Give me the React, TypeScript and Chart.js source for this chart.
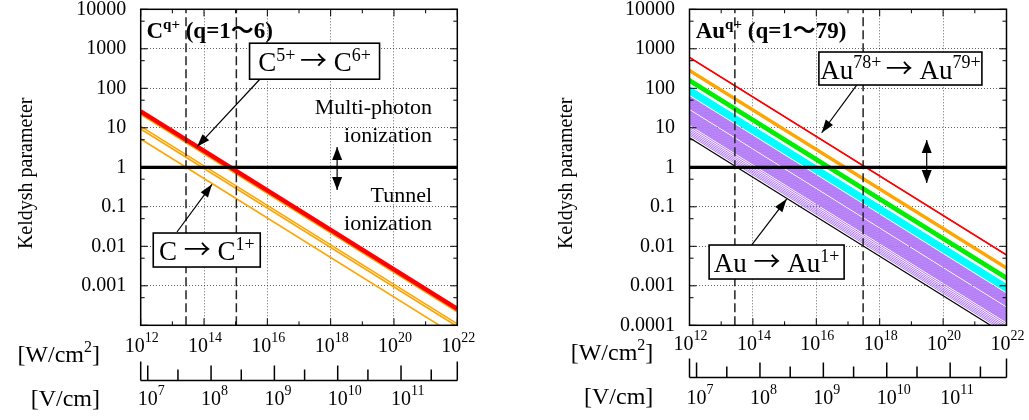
import React, { useEffect, useRef } from 'react';
import { Chart, registerables } from 'chart.js';

Chart.register(...registerables);

const SERIF = "'Liberation Serif', 'Times New Roman', 'Noto Sans CJK JP', serif";
const SYMBOL = "'Noto Sans CJK JP', 'Liberation Serif', serif";

// ---- axes ----
const intensityMin = 1e12;
const intensityMax = 1e22;
const gammaMin = 1e-4;
const gammaMax = 1e4;
const yTickValues = [1e4, 1e3, 1e2, 1e1, 1, 1e-1, 1e-2, 1e-3, 1e-4];
const yTickLabels = ['10000', '1000', '100', '10', '1', '0.1', '0.01', '0.001', '0.0001'];
const yMinorTickValues = [5e-4, 5e-3, 5e-2, 0.5, 5, 50, 500, 5000];
const xTickValues = [1e12, 1e14, 1e16, 1e18, 1e20, 1e22];
const xTickExponents = ['12', '14', '16', '18', '20', '22'];
const xGridValues = [1e14, 1e16, 1e18, 1e20];
const xMinorTickValues = [1e13, 1e15, 1e17, 1e19, 1e21];
const fieldMin = 7.74e6;
const fieldMax = 7.74e11;
const fieldTickValues = [1e7, 1e8, 1e9, 1e10, 1e11];
const fieldTickExponents = ['7', '8', '9', '10', '11'];
const fieldMinorTickValues = [3e7, 3e8, 3e9, 3e10, 3e11];
const referenceGamma = 1;

// ---- carbon (C q+ , q = 1..6): Keldysh parameter at 1e12 and 1e22 W/cm2 ----
const carbonRedStart = [26];
const carbonRedEnd = [2.6e-4];
const carbonOrangeStart = [22.5, 10.9, 9.3, 5.2];
const carbonOrangeEnd = [2.25e-4, 1.09e-4, 9.3e-5, 5.2e-5];
const carbonDashedIntensity = [2.7e13, 1.05e15];

// ---- gold (Au q+ , q = 1..79) ----
const auRedStart = [612, 598];
const auRedEnd = [6.12e-3, 5.98e-3];
const auOrangeStart = [303, 294.6, 286.5, 278.6, 270.9, 263.4];
const auOrangeEnd = [3.03e-3, 2.946e-3, 2.865e-3, 2.786e-3, 2.709e-3, 2.634e-3];
const auGreenStart = [175, 169.8, 164.8, 160, 155.3, 150.7, 146.2, 142];
const auGreenEnd = [1.75e-3, 1.698e-3, 1.648e-3, 1.6e-3, 1.553e-3, 1.507e-3, 1.462e-3, 1.42e-3];
const auCyanStart = [107.9, 104.6, 101.3, 98.2, 95.1, 92.2, 89.3, 86.5, 83.9, 81.3, 78.7, 76.3, 73.9, 71.6];
const auCyanEnd = [1.079e-3, 1.046e-3, 1.013e-3, 9.82e-4, 9.51e-4, 9.22e-4, 8.93e-4, 8.65e-4, 8.39e-4, 8.13e-4, 7.87e-4, 7.63e-4, 7.39e-4, 7.16e-4];
const auPurpleStart = [
  62.0, 59.9, 57.8, 55.8, 53.9, 52.0, 50.2, 48.5, 46.8, 45.2, 43.7, 42.2, 40.7, 39.3, 37.9, 36.6, 35.4, 34.2, 33.0, 31.8, 30.7,
  27.4, 26.3, 25.3, 24.3, 23.3, 22.4, 21.5, 20.6, 19.8, 19.0, 18.2, 17.5, 16.8, 16.1, 15.5, 14.9, 14.3, 13.7, 13.2, 12.6, 12.1,
  10.8, 9.6, 8.64, 7.83, 7.13, 6.5,
];
const auPurpleEnd = [
  6.2e-4, 5.99e-4, 5.78e-4, 5.58e-4, 5.39e-4, 5.2e-4, 5.02e-4, 4.85e-4, 4.68e-4, 4.52e-4, 4.37e-4, 4.22e-4, 4.07e-4, 3.93e-4, 3.79e-4, 3.66e-4, 3.54e-4, 3.42e-4, 3.3e-4, 3.18e-4, 3.07e-4,
  2.74e-4, 2.63e-4, 2.53e-4, 2.43e-4, 2.33e-4, 2.24e-4, 2.15e-4, 2.06e-4, 1.98e-4, 1.9e-4, 1.82e-4, 1.75e-4, 1.68e-4, 1.61e-4, 1.55e-4, 1.49e-4, 1.43e-4, 1.37e-4, 1.32e-4, 1.26e-4, 1.21e-4,
  1.08e-4, 9.6e-5, 8.64e-5, 7.83e-5, 7.13e-5, 6.5e-5,
];
const auBlackStart = [5.6];
const auBlackEnd = [5.6e-5];
const auDashedIntensity = [2.7e13, 3.0e17];

// ---- types ----
type XY = [number, number];
interface Seg { text: string; sup?: boolean; sym?: boolean }
interface Box { center: XY; w: number; h: number; segs: Seg[]; from: XY; to: XY }
interface Note { at: XY; text: string }
interface Panel {
  key: string;
  width: number;
  yAxisWidth: number;
  padRight: number;
  datasets: any[];
  title: { at: XY; segs: Seg[] };
  boxes: Box[];
  notes: Note[];
  doubleArrow: { x: number; y1: number; y2: number };
  hideLowestYLabel: boolean;
  yTitleX: number;
  unitRightX: number;
  xLabelBaseline: number;
  wUnitBaseline: number;
  vUnitBaseline: number;
  fieldAxisY: number;
  fieldLabelBaseline: number;
}

const isDecade = (v: number, list: number[]) =>
  list.some((t) => Math.abs(Math.log10(v) - Math.log10(t)) < 1e-6);

function lineSet(starts: number[], ends: number[], color: string, width: number, order: number) {
  return starts.map((s, i) => ({
    data: [
      { x: intensityMin, y: s },
      { x: intensityMax, y: ends[i] },
    ],
    borderColor: color,
    borderWidth: width,
    pointRadius: 0,
    fill: false,
    tension: 0,
    order,
    clip: 0,
  }));
}

function referenceSets(dashed: number[]) {
  const sets: any[] = [
    {
      data: [
        { x: intensityMin, y: referenceGamma },
        { x: intensityMax, y: referenceGamma },
      ],
      borderColor: '#000',
      borderWidth: 3.2,
      pointRadius: 0,
      order: 0,
      clip: 0,
    },
  ];
  dashed.forEach((v) =>
    sets.push({
      data: [
        { x: v, y: gammaMin },
        { x: v, y: gammaMax },
      ],
      borderColor: '#222',
      borderWidth: 1.5,
      borderDash: [9, 4],
      pointRadius: 0,
      order: 0,
      clip: 0,
    })
  );
  return sets;
}

function drawRich(
  ctx: CanvasRenderingContext2D,
  segs: Seg[],
  x: number,
  y: number,
  o: { size: number; supSize: number; raise: number; bold?: boolean; align: 'left' | 'center' | 'right' | 'base' }
) {
  const fontOf = (s: Seg) =>
    `${o.bold ? 'bold ' : ''}${s.sup ? o.supSize : o.size}px ${s.sym ? SYMBOL : SERIF}`;
  let total = 0;
  const widths = segs.map((s) => {
    ctx.font = fontOf(s);
    const w = ctx.measureText(s.text).width;
    total += w;
    return w;
  });
  let cx = x;
  if (o.align === 'center') cx = x - total / 2;
  else if (o.align === 'right') cx = x - total;
  else if (o.align === 'base') cx = x - widths[0] / 2;
  ctx.textAlign = 'left';
  ctx.textBaseline = 'alphabetic';
  segs.forEach((s, i) => {
    ctx.font = fontOf(s);
    ctx.fillText(s.text, cx, s.sup ? y - o.raise : s.sym ? y - 1 : y);
    cx += widths[i];
  });
}

function line(ctx: CanvasRenderingContext2D, x1: number, y1: number, x2: number, y2: number) {
  ctx.beginPath();
  ctx.moveTo(x1, y1);
  ctx.lineTo(x2, y2);
  ctx.stroke();
}

function head(ctx: CanvasRenderingContext2D, x1: number, y1: number, x2: number, y2: number, len = 12, half = 4.5) {
  const ang = Math.atan2(y2 - y1, x2 - x1);
  ctx.beginPath();
  ctx.moveTo(x2, y2);
  ctx.lineTo(x2 - len * Math.cos(ang) + half * Math.sin(ang), y2 - len * Math.sin(ang) - half * Math.cos(ang));
  ctx.lineTo(x2 - len * Math.cos(ang) - half * Math.sin(ang), y2 - len * Math.sin(ang) + half * Math.cos(ang));
  ctx.closePath();
  ctx.fill();
}

function makeOverlay(p: Panel) {
  return {
    id: 'overlay_' + p.key,
    afterDatasetsDraw(chart: any) {
      const ctx = chart.ctx as CanvasRenderingContext2D;
      const xs = chart.scales.x;
      const ys = chart.scales.y;
      const es = chart.scales.e;
      const a = chart.chartArea;
      const px = (v: number) => xs.getPixelForValue(v);
      const py = (v: number) => ys.getPixelForValue(v);
      ctx.save();
      ctx.fillStyle = '#000';
      ctx.strokeStyle = '#000';

      // inward ticks (mirrored)
      ctx.lineWidth = 1;
      const hTick = (v: number, len: number) => {
        const y = py(v);
        line(ctx, a.left, y, a.left + len, y);
        line(ctx, a.right - len, y, a.right, y);
      };
      const vTick = (v: number, len: number) => {
        const x = px(v);
        line(ctx, x, a.bottom, x, a.bottom - len);
        line(ctx, x, a.top, x, a.top + len);
      };
      yTickValues.forEach((v) => hTick(v, 7));
      yMinorTickValues.forEach((v) => hTick(v, 4));
      xTickValues.forEach((v) => vTick(v, 7));
      xMinorTickValues.forEach((v) => vTick(v, 4));

      // frame
      ctx.lineWidth = 1.5;
      ctx.strokeRect(a.left, a.top, a.right - a.left, a.bottom - a.top);

      // intensity tick labels
      xTickValues.forEach((v, i) =>
        drawRich(ctx, [{ text: '10' }, { text: xTickExponents[i], sup: true }], px(v) + 1, p.xLabelBaseline, {
          size: 20,
          supSize: 14,
          raise: 10,
          align: 'center',
        })
      );

      // unit labels
      drawRich(ctx, [{ text: '[W/cm' }, { text: '2', sup: true }, { text: ']' }], p.unitRightX, p.wUnitBaseline, {
        size: 24,
        supSize: 16,
        raise: 10,
        align: 'right',
      });
      drawRich(ctx, [{ text: '[V/cm]' }], p.unitRightX, p.vUnitBaseline, {
        size: 24,
        supSize: 16,
        raise: 10,
        align: 'right',
      });

      // field axis
      const ey = p.fieldAxisY;
      const eL = es.getPixelForValue(fieldMin);
      const eR = es.getPixelForValue(fieldMax);
      ctx.lineWidth = 1.5;
      line(ctx, eL, ey, eR, ey);
      line(ctx, eL, ey, eL, ey - 19);
      line(ctx, eR, ey, eR, ey - 19);
      fieldTickValues.forEach((v) => {
        const x = es.getPixelForValue(v);
        line(ctx, x, ey, x, ey - 15);
      });
      fieldMinorTickValues.forEach((v) => {
        const x = es.getPixelForValue(v);
        line(ctx, x, ey, x, ey - 11);
      });
      fieldTickValues.forEach((v, i) =>
        drawRich(ctx, [{ text: '10' }, { text: fieldTickExponents[i], sup: true }], es.getPixelForValue(v), p.fieldLabelBaseline, {
          size: 20,
          supSize: 14,
          raise: 10,
          align: 'base',
        })
      );

      // y title
      ctx.save();
      ctx.translate(p.yTitleX, (a.top + a.bottom) / 2 + 6);
      ctx.rotate(-Math.PI / 2);
      ctx.font = `20px ${SERIF}`;
      ctx.textAlign = 'center';
      ctx.textBaseline = 'alphabetic';
      ctx.fillText('Keldysh parameter', 0, 0);
      ctx.restore();

      // panel title
      drawRich(ctx, p.title.segs, px(p.title.at[0]), py(p.title.at[1]), {
        size: 23,
        supSize: 15,
        raise: 9,
        bold: true,
        align: 'left',
      });

      // annotation boxes with arrows
      p.boxes.forEach((b) => {
        const fx = px(b.from[0]);
        const fy = py(b.from[1]);
        const tx = px(b.to[0]);
        const ty = py(b.to[1]);
        ctx.lineWidth = 1.2;
        line(ctx, fx, fy, tx, ty);
        head(ctx, fx, fy, tx, ty, 13, 4.5);
        const cx = px(b.center[0]);
        const cy = py(b.center[1]);
        ctx.fillStyle = '#fff';
        ctx.fillRect(cx - b.w / 2, cy - b.h / 2, b.w, b.h);
        ctx.fillStyle = '#000';
        ctx.lineWidth = 1.6;
        ctx.strokeRect(cx - b.w / 2, cy - b.h / 2, b.w, b.h);
        drawRich(ctx, b.segs, cx, cy + 10, { size: 27, supSize: 18, raise: 10.5, align: 'center' });
      });

      // notes
      p.notes.forEach((n) => {
        ctx.font = `22px ${SERIF}`;
        ctx.textAlign = 'right';
        ctx.textBaseline = 'alphabetic';
        ctx.fillText(n.text, px(n.at[0]), py(n.at[1]));
      });

      // double arrow
      const dx = px(p.doubleArrow.x);
      const d1 = py(p.doubleArrow.y1);
      const d2 = py(p.doubleArrow.y2);
      ctx.lineWidth = 1.2;
      line(ctx, dx, d1, dx, d2);
      head(ctx, dx, d2, dx, d1, 13, 5);
      head(ctx, dx, d1, dx, d2, 13, 5);

      ctx.restore();
    },
  };
}

function makeConfig(p: Panel) {
  const gridColor = (list: number[]) => (c: any) =>
    c.tick && isDecade(c.tick.value, list) ? 'rgba(0,0,0,0.6)' : 'rgba(0,0,0,0)';
  return {
    type: 'line',
    data: { datasets: p.datasets },
    options: {
      animation: false,
      responsive: false,
      events: [],
      layout: { padding: { left: 0, right: p.padRight, top: 9.3, bottom: 0 } },
      plugins: { legend: { display: false }, tooltip: { enabled: false } },
      scales: {
        x: {
          type: 'logarithmic',
          min: intensityMin,
          max: intensityMax,
          position: 'bottom',
          ticks: { display: false, autoSkip: false },
          grid: { drawTicks: false, color: gridColor(xGridValues), lineWidth: 1 },
          border: { display: false, dash: [1, 2] },
          afterFit: (s: any) => {
            s.height = 94.7;
          },
        },
        y: {
          type: 'logarithmic',
          min: gammaMin,
          max: gammaMax,
          position: 'left',
          ticks: {
            autoSkip: false,
            padding: 0,
            color: '#000',
            font: { family: SERIF, size: 20, lineHeight: 0.9 },
            callback: (v: number) => {
              const idx = yTickValues.findIndex((t) => Math.abs(Math.log10(v) - Math.log10(t)) < 1e-6);
              if (idx < 0) return '';
              if (p.hideLowestYLabel && idx === yTickValues.length - 1) return '';
              return yTickLabels[idx];
            },
          },
          grid: {
            drawTicks: true,
            tickLength: 14.5,
            tickColor: 'rgba(0,0,0,0)',
            color: gridColor(yTickValues.slice(1, -1)),
            lineWidth: 1,
          },
          border: { display: false, dash: [1, 2] },
          afterFit: (s: any) => {
            s.width = p.yAxisWidth;
          },
        },
        e: {
          type: 'logarithmic',
          display: false,
          position: 'bottom',
          min: fieldMin,
          max: fieldMax,
        },
      },
    },
    plugins: [makeOverlay(p)],
  };
}

const arrowSeg: Seg = { text: '→', sym: true };

const carbonPanel: Panel = {
  key: 'c',
  width: 514,
  yAxisWidth: 140.7,
  padRight: 56.7,
  datasets: [
    ...referenceSets(carbonDashedIntensity),
    ...lineSet(carbonRedStart, carbonRedEnd, '#ff0000', 4.5, 1),
    ...lineSet(carbonOrangeStart.slice(0, 1), carbonOrangeEnd.slice(0, 1), '#ffa500', 2.4, 2),
    ...lineSet(carbonOrangeStart.slice(1), carbonOrangeEnd.slice(1), '#ffa500', 1.6, 2),
  ],
  title: { at: [1.52e12, 1824], segs: [{ text: 'C' }, { text: 'q+', sup: true }, { text: ' (q=1〜6)' }] },
  boxes: [
    {
      center: [3.1e17, 485],
      w: 130,
      h: 36,
      segs: [{ text: 'C' }, { text: '5+ ', sup: true }, arrowSeg, { text: ' C' }, { text: '6+', sup: true }],
      from: [5.9e15, 172],
      to: [6.0e13, 3.3],
    },
    {
      center: [1.22e14, 8.05e-3],
      w: 107,
      h: 34,
      segs: [{ text: 'C ' }, arrowSeg, { text: ' C' }, { text: '1+', sup: true }],
      from: [1.4e13, 0.023],
      to: [1.79e14, 0.37],
    },
  ],
  notes: [
    { at: [1.6e21, 22], text: 'Multi-photon' },
    { at: [1.6e21, 4.45], text: 'ionization' },
    { at: [1.6e21, 0.135], text: 'Tunnel' },
    { at: [1.6e21, 0.0259], text: 'ionization' },
  ],
  doubleArrow: { x: 1.6e18, y1: 3.27, y2: 0.266 },
  hideLowestYLabel: true,
  yTitleX: 32.3,
  unitRightX: 100,
  xLabelBaseline: 351.7,
  wUnitBaseline: 362,
  vUnitBaseline: 405.5,
  fieldAxisY: 380.5,
  fieldLabelBaseline: 405,
};

const goldPanel: Panel = {
  key: 'au',
  width: 515,
  yAxisWidth: 175.5,
  padRight: 22.5,
  datasets: [
    ...referenceSets(auDashedIntensity),
    ...lineSet(auRedStart, auRedEnd, '#ff0000', 1.4, 1),
    ...lineSet(auBlackStart, auBlackEnd, '#000000', 1.2, 1),
    ...lineSet(auOrangeStart, auOrangeEnd, '#ffa500', 1.4, 2),
    ...lineSet(auGreenStart, auGreenEnd, '#00ee00', 1.4, 3),
    ...lineSet(auCyanStart, auCyanEnd, '#00ffff', 1.4, 4),
    ...lineSet(auPurpleStart, auPurpleEnd, 'rgb(178,122,246)', 1, 5),
  ],
  title: { at: [1.57e12, 1824], segs: [{ text: 'Au' }, { text: 'q+', sup: true }, { text: ' (q=1〜79)' }] },
  boxes: [
    {
      center: [4.5e18, 317],
      w: 163,
      h: 33,
      segs: [{ text: 'Au' }, { text: '78+ ', sup: true }, arrowSeg, { text: ' Au' }, { text: '79+', sup: true }],
      from: [1.88e17, 121],
      to: [1.48e16, 7.5],
    },
    {
      center: [5.6e14, 4.0e-3],
      w: 135,
      h: 34,
      segs: [{ text: 'Au ' }, arrowSeg, { text: ' Au' }, { text: '1+', sup: true }],
      from: [9.2e13, 0.0108],
      to: [1.16e15, 0.157],
    },
  ],
  notes: [],
  doubleArrow: { x: 3.04e19, y1: 4.9, y2: 0.4 },
  hideLowestYLabel: false,
  yTitleX: 57.7,
  unitRightX: 139.3,
  xLabelBaseline: 350,
  wUnitBaseline: 360,
  vUnitBaseline: 404,
  fieldAxisY: 377.5,
  fieldLabelBaseline: 403.5,
};

function PanelChart({ panel, left }: { panel: Panel; left: number }) {
  const ref = useRef<HTMLCanvasElement | null>(null);
  useEffect(() => {
    if (!ref.current) return;
    const chart = new Chart(ref.current, makeConfig(panel) as any);
    return () => chart.destroy();
  }, [panel]);
  return (
    <canvas
      ref={ref}
      width={panel.width}
      height={420}
      style={{ position: 'absolute', left, top: 0, width: panel.width, height: 420 }}
    />
  );
}

export default function App() {
  return (
    <div style={{ position: 'absolute', left: 0, top: 0, width: 1029, height: 420, background: '#fff' }}>
      <PanelChart panel={carbonPanel} left={0} />
      <PanelChart panel={goldPanel} left={514} />
    </div>
  );
}
